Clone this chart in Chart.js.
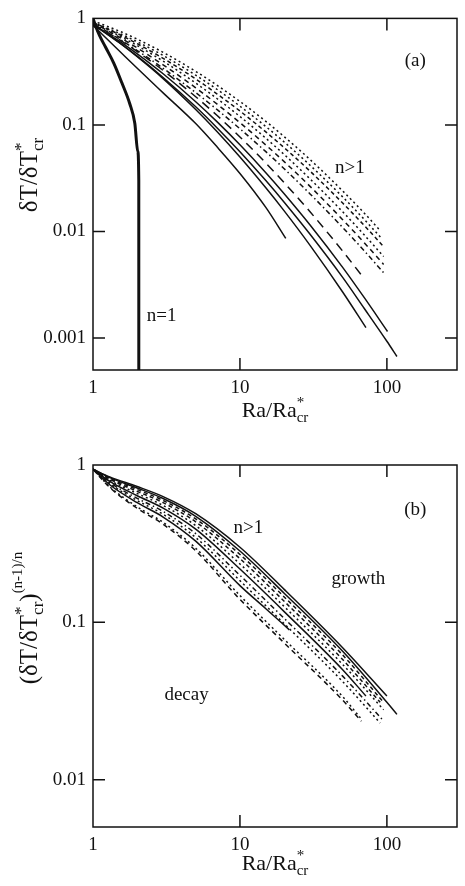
<!DOCTYPE html>
<html>
<head>
<meta charset="utf-8">
<script src="https://cdn.jsdelivr.net/npm/chart.js@4.4.1/dist/chart.umd.min.js"></script>
<style>
  html, body { margin: 0; padding: 0; background: #fff; }
  body { width: 465px; height: 886px; position: relative; overflow: hidden; }
  .panel { position: absolute; left: 0; width: 465px; }
  #boxA { top: 0; height: 430px; }
  #boxB { top: 440px; height: 446px; }
</style>
</head>
<body>
<div class="panel" id="boxA"><canvas id="chartA"></canvas></div>
<div class="panel" id="boxB"><canvas id="chartB"></canvas></div>
<script>
// --- tick values ---
const xTicks = [1, 10, 100];
const yTicksA = [1, 0.1, 0.01, 0.001];
const yTicksB = [1, 0.1, 0.01];

// --- panel (a): dT/dT*cr vs Ra/Ra*cr ---
const aN1X = [1, 1.043, 1.111, 1.221, 1.384, 1.569, 1.779, 1.925, 2.017, 2.049, 2.05];
const aN1Y = [1, 0.846, 0.685, 0.533, 0.381, 0.25, 0.158, 0.1036, 0.0564, 0.030, 0.0005];

const aDot1X = [1, 1.5, 2, 3, 5, 7, 10, 15, 20, 30, 50, 70, 90];
const aDot1Y = [0.95, 0.763, 0.638, 0.48, 0.318, 0.235, 0.166, 0.108, 0.0776, 0.0473, 0.024, 0.0149, 0.0102];
const aDot2X = [1, 1.5, 2, 3, 5, 7, 10, 15, 20, 30, 50, 70, 92];
const aDot2Y = [0.92, 0.728, 0.603, 0.449, 0.293, 0.215, 0.15, 0.0966, 0.0691, 0.0418, 0.0211, 0.013, 0.0086];
const aDash1X = [1, 1.5, 2, 3, 5, 7, 10, 15, 20, 30, 50, 70, 95];
const aDash1Y = [0.92, 0.71, 0.579, 0.422, 0.27, 0.195, 0.135, 0.0859, 0.0611, 0.0368, 0.01845, 0.0114, 0.0072];
const aDot3X = [1, 1.5, 2, 3, 5, 7, 10, 15, 20, 30, 50, 70, 95];
const aDot3Y = [0.912, 0.69, 0.555, 0.397, 0.247, 0.176, 0.12, 0.075, 0.0527, 0.0311, 0.0153, 0.0093, 0.0058];
const aDash2X = [1, 1.5, 2, 3, 5, 7, 10, 15, 20, 30, 50, 70, 95];
const aDash2Y = [0.912, 0.669, 0.528, 0.367, 0.223, 0.1565, 0.105, 0.0648, 0.0452, 0.0265, 0.0129, 0.00785, 0.0049];
const aDashDotX = [1, 1.5, 2, 3, 5, 7, 10, 15, 20, 30, 50, 70, 95];
const aDashDotY = [0.9, 0.644, 0.499, 0.34, 0.201, 0.139, 0.092, 0.0561, 0.0388, 0.0225, 0.0109, 0.0066, 0.0041];
const aLongX = [1, 1.5, 2, 3, 5, 7, 10, 15, 20, 30, 50, 67];
const aLongY = [0.89, 0.635, 0.4875, 0.325, 0.184, 0.1224, 0.077, 0.0439, 0.0287, 0.0153, 0.00653, 0.0039];
const aSolBX = [1, 1.5, 2, 3, 5, 7, 10, 15, 20, 30, 50, 72];
const aSolBY = [0.88, 0.594, 0.4365, 0.272, 0.1395, 0.0863, 0.05, 0.0257, 0.0156, 0.0074, 0.0027, 0.00125];
const aSolCX = [1, 1.5, 2, 3, 5, 7, 10, 15, 20, 30, 50, 70, 101];
const aSolCY = [0.88, 0.615, 0.465, 0.302, 0.165, 0.1067, 0.065, 0.0356, 0.0226, 0.0115, 0.0046, 0.0024, 0.00115];
const aSolDX = [1, 1.5, 2, 3, 5, 7, 10, 15, 20, 30, 50, 70, 100, 117];
const aSolDY = [0.88, 0.597, 0.442, 0.279, 0.148, 0.0937, 0.056, 0.030, 0.0188, 0.0094, 0.0037, 0.0019, 0.00093, 0.00067];
const aSolAX = [1, 1.5, 2, 3, 5, 7, 10, 15, 20.5];
const aSolAY = [0.86, 0.5, 0.34, 0.2, 0.103, 0.062, 0.035, 0.0168, 0.0086];

// --- panel (b): (dT/dT*cr)^((n-1)/n) vs Ra/Ra*cr ---
const bSol1X = [1, 1.3, 2, 3, 5, 10, 20, 50, 100];
const bSol1Y = [0.94, 0.84, 0.73, 0.63, 0.49, 0.30, 0.162, 0.069, 0.034];
const bSol2X = [1, 1.3, 2, 3, 5, 10, 20, 50, 100, 117];
const bSol2Y = [0.94, 0.831, 0.714, 0.612, 0.472, 0.284, 0.153, 0.0654, 0.031, 0.026];
const bDash1X = [1, 1.3, 2, 3, 5, 10, 20, 50, 95];
const bDash1Y = [0.94, 0.822, 0.698, 0.595, 0.454, 0.27, 0.145, 0.062, 0.031];
const bDash2X = [1, 1.3, 2, 3, 5, 10, 20, 50, 90];
const bDash2Y = [0.94, 0.812, 0.68, 0.576, 0.435, 0.254, 0.136, 0.058, 0.031];
const bDot1X = [1, 1.3, 2, 3, 5, 10, 20, 50, 95];
const bDot1Y = [0.94, 0.80, 0.659, 0.553, 0.412, 0.235, 0.126, 0.054, 0.0278];
const bSol3X = [1, 1.3, 2, 3, 5, 10, 20, 50, 72];
const bSol3Y = [0.94, 0.787, 0.638, 0.532, 0.391, 0.218, 0.117, 0.05, 0.034];
const bDash3X = [1, 1.3, 2, 3, 5, 10, 20, 50, 95];
const bDash3Y = [0.94, 0.773, 0.614, 0.507, 0.366, 0.199, 0.106, 0.0455, 0.0236];
const bDot2X = [1, 1.3, 2, 3, 5, 10, 20, 50, 90];
const bDot2Y = [0.94, 0.761, 0.595, 0.486, 0.346, 0.184, 0.098, 0.042, 0.0229];
const bSol4X = [1, 1.3, 2, 3, 5, 10, 15, 21.7];
const bSol4Y = [0.94, 0.749, 0.576, 0.467, 0.328, 0.171, 0.122, 0.0896];
const bDot3X = [1, 1.3, 2, 3, 5, 10, 20, 50, 66];
const bDot3Y = [0.94, 0.727, 0.542, 0.432, 0.296, 0.148, 0.078, 0.0337, 0.0247];
const bDash4X = [1, 1.3, 2, 3, 5, 10, 20, 50, 67];
const bDash4Y = [0.94, 0.72, 0.53, 0.42, 0.285, 0.14, 0.074, 0.032, 0.0235];

// --- estilos ---
const serif = "'Liberation Serif', 'Times New Roman', serif";
const ink = '#111';
const DOT = [2, 3];
const DASH = [4, 3];
const DASH2 = [5, 4];
const DASHDOT = [5, 3, 1.5, 3];
const LONG = [9, 6];
const SOLID = [];

Chart.defaults.font.family = serif;

function serie(xs, ys, dash, width) {
  return {
    data: xs.map((x, i) => ({ x: x, y: ys[i] })),
    showLine: true,
    borderColor: ink,
    borderWidth: width || 1.5,
    borderDash: dash,
    pointRadius: 0,
    fill: false,
    cubicInterpolationMode: 'monotone'
  };
}

// texto con super/subindices (lista de trozos)
function drawRich(ctx, segs, cx, cy, angle) {
  ctx.save();
  ctx.translate(cx, cy);
  ctx.rotate(angle);
  ctx.fillStyle = ink;
  ctx.textAlign = 'left';
  ctx.textBaseline = 'alphabetic';
  let pos = 0, prevStart = 0;
  const laid = segs.map(sg => {
    ctx.font = sg.size + 'px ' + serif;
    const w = ctx.measureText(sg.text).width;
    const start = sg.stack ? prevStart : pos;
    pos = Math.max(pos, start + w);
    prevStart = start;
    return { sg: sg, start: start };
  });
  const half = pos / 2;
  laid.forEach(l => {
    ctx.font = l.sg.size + 'px ' + serif;
    ctx.fillText(l.sg.text, l.start - half, l.sg.dy || 0);
  });
  ctx.restore();
}

const xTitle = [
  { text: 'Ra/Ra', size: 22 },
  { text: '*', size: 15, dy: -10 },
  { text: 'cr', size: 15, dy: 5, stack: true }
];

function decor(cfg) {
  return {
    id: 'decor',
    afterDraw(chart) {
      const ctx = chart.ctx, a = chart.chartArea;
      const sx = chart.scales.x, sy = chart.scales.y;
      const tickLen = 12;
      ctx.save();
      ctx.strokeStyle = ink;
      ctx.lineWidth = 1.5;
      ctx.strokeRect(a.left, a.top, a.right - a.left, a.bottom - a.top);
      ctx.beginPath();
      xTicks.slice(1).forEach(v => {
        const px = sx.getPixelForValue(v);
        ctx.moveTo(px, a.bottom); ctx.lineTo(px, a.bottom - tickLen);
        ctx.moveTo(px, a.top); ctx.lineTo(px, a.top + tickLen);
      });
      cfg.yTicks.slice(1).forEach(v => {
        const py = sy.getPixelForValue(v);
        ctx.moveTo(a.left, py); ctx.lineTo(a.left + tickLen, py);
        ctx.moveTo(a.right, py); ctx.lineTo(a.right - tickLen, py);
      });
      ctx.stroke();

      // anotaciones en coordenadas de datos
      ctx.fillStyle = ink;
      ctx.font = '19px ' + serif;
      ctx.textAlign = 'center';
      ctx.textBaseline = 'middle';
      cfg.notes.forEach(n => {
        ctx.fillText(n.text, sx.getPixelForValue(n.x), sy.getPixelForValue(n.y));
      });
      ctx.restore();

      drawRich(ctx, xTitle, (a.left + a.right) / 2, a.bottom + cfg.xTitleGap, 0);
      drawRich(ctx, cfg.yTitle, cfg.yTitleX, cfg.yTitleY, -Math.PI / 2);
    }
  };
}

function makeChart(id, datasets, yTicks, yMin, padTop, xHeight, cfg) {
  const tickFont = { family: serif, size: 19 };
  return new Chart(document.getElementById(id), {
    type: 'scatter',
    data: { datasets: datasets },
    options: {
      responsive: true,
      maintainAspectRatio: false,
      animation: false,
      devicePixelRatio: 1,
      events: [],
      layout: { padding: { top: padTop, right: 8, left: 0, bottom: 0 } },
      plugins: { legend: { display: false }, tooltip: { enabled: false } },
      scales: {
        x: {
          type: 'logarithmic', min: 1, max: 300,
          afterBuildTicks: s => { s.ticks = xTicks.map(v => ({ value: v })); },
          afterFit: s => { s.height = xHeight; },
          grid: { display: false, drawTicks: false },
          border: { display: false },
          ticks: { autoSkip: false, maxRotation: 0, padding: 7, color: ink, font: tickFont, callback: v => String(v) }
        },
        y: {
          type: 'logarithmic', min: yMin, max: 1,
          afterBuildTicks: s => { s.ticks = yTicks.map(v => ({ value: v })); },
          afterFit: s => { s.width = 93; },
          grid: { display: false, drawTicks: false },
          border: { display: false },
          ticks: { autoSkip: false, padding: 7, color: ink, font: tickFont, callback: v => String(v) }
        }
      }
    },
    plugins: [decor(cfg)]
  });
}

// --- panel (a) ---
makeChart('chartA', [
  serie(aN1X, aN1Y, SOLID, 3),
  serie(aDot1X, aDot1Y, DOT),
  serie(aDot2X, aDot2Y, DOT),
  serie(aDash1X, aDash1Y, DASH),
  serie(aDot3X, aDot3Y, DOT),
  serie(aDash2X, aDash2Y, DASH2),
  serie(aDashDotX, aDashDotY, DASHDOT),
  serie(aLongX, aLongY, LONG),
  serie(aSolBX, aSolBY, SOLID),
  serie(aSolCX, aSolCY, SOLID),
  serie(aSolDX, aSolDY, SOLID),
  serie(aSolAX, aSolAY, SOLID)
], yTicksA, 0.0005, 8, 60, {
  yTicks: yTicksA,
  notes: [
    { text: '(a)', x: 156, y: 0.40 },
    { text: 'n>1', x: 56, y: 0.0397 },
    { text: 'n=1', x: 2.93, y: 0.00159 }
  ],
  xTitleGap: 47,
  yTitleX: 37,
  yTitleY: 175,
  yTitle: [
    { text: '\u03B4T/\u03B4T', size: 25 },
    { text: '*', size: 17, dy: -11 },
    { text: 'cr', size: 17, dy: 6, stack: true }
  ]
});

// --- panel (b) ---
makeChart('chartB', [
  serie(bSol1X, bSol1Y, SOLID),
  serie(bSol2X, bSol2Y, SOLID),
  serie(bDash1X, bDash1Y, DASH),
  serie(bDash2X, bDash2Y, DASH),
  serie(bDot1X, bDot1Y, DOT),
  serie(bSol3X, bSol3Y, SOLID),
  serie(bDash3X, bDash3Y, DASHDOT),
  serie(bDot2X, bDot2Y, DOT),
  serie(bSol4X, bSol4Y, SOLID),
  serie(bDot3X, bDot3Y, DOT),
  serie(bDash4X, bDash4Y, DASH2)
], yTicksB, 0.005, 25, 59, {
  yTicks: yTicksB,
  notes: [
    { text: '(b)', x: 156, y: 0.518 },
    { text: 'n>1', x: 11.4, y: 0.396 },
    { text: 'growth', x: 64, y: 0.1876 },
    { text: 'decay', x: 4.33, y: 0.0345 }
  ],
  xTitleGap: 43,
  yTitleX: 37,
  yTitleY: 178,
  yTitle: [
    { text: '(\u03B4T/\u03B4T', size: 25 },
    { text: '*', size: 17, dy: -11 },
    { text: 'cr', size: 17, dy: 6, stack: true },
    { text: ')', size: 25 },
    { text: '(n-1)/n', size: 15, dy: -15 }
  ]
});
</script>
</body>
</html>
